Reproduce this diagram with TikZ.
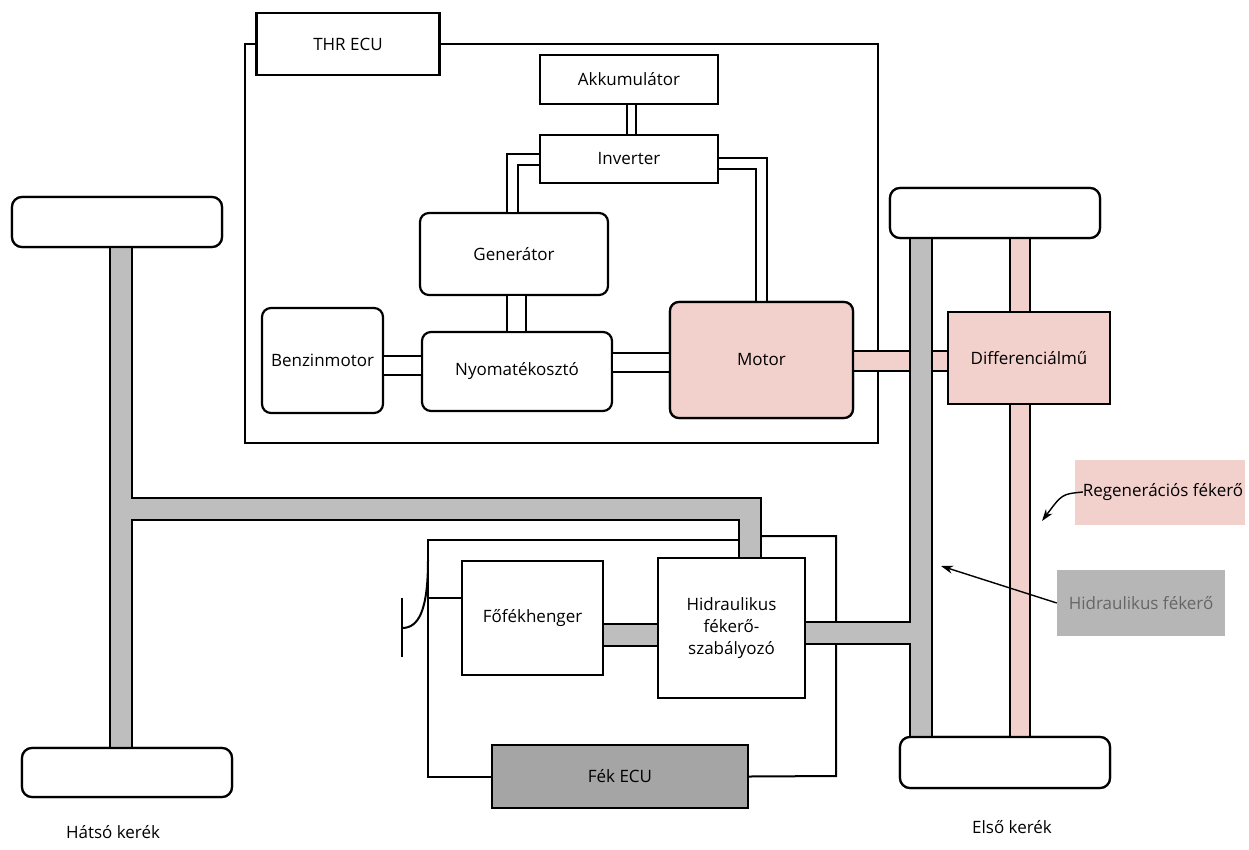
\documentclass[tikz,border=0pt]{standalone}
\usepackage{fontspec}
\setmainfont{Open Sans}
\usetikzlibrary{arrows.meta}
\definecolor{pinkf}{RGB}{242,208,204}
\definecolor{grayp}{RGB}{190,190,190}
\definecolor{grayd}{RGB}{165,165,165}
\definecolor{grayl}{RGB}{182,182,182}
\begin{document}
\begin{tikzpicture}[x=1pt,y=-1pt,
  every node/.style={font=\fontsize{17}{22}\selectfont},
  box/.style={draw,line width=2.2pt,fill=white,inner sep=0pt,align=center},
  rbox/.style={box,rounded corners=9pt},
  wheel/.style={box,rounded corners=10pt,minimum width=210pt,minimum height=50pt},
  dline/.style={draw,line width=2pt,double=white},
  thin/.style={draw,line width=2pt},
  gpipeo/.style={draw=black,line width=24pt},
  gpipei/.style={draw=grayp,line width=19.5pt},
  ppipeo/.style={draw=black,line width=22pt},
  ppipei/.style={draw=pinkf,line width=18pt},
  lab/.style={inner sep=0pt,align=center},
  arr/.style={draw,line width=1.4pt,-{Stealth[length=12pt,width=8pt]}}]
\useasboundingbox (0,0) rectangle (1249,849);

% nodes
\node[box,minimum width=183pt,minimum height=62pt] (thr) at (348,44) {THR ECU};
\node[box,minimum width=178pt,minimum height=49pt] (akku) at (629,79.5) {Akkumulátor};
\node[box,minimum width=178pt,minimum height=48pt] (inv) at (629,159) {Inverter};
\node[rbox,minimum width=188pt,minimum height=82pt] (gen) at (514,254) {Generátor};
\node[rbox,minimum width=121pt,minimum height=105pt] (benz) at (322.5,360.5) {Benzinmotor};
\node[rbox,minimum width=190pt,minimum height=79pt] (nyom) at (517,371.5) {Nyomatékosztó};
\node[rbox,fill=pinkf,minimum width=183pt,minimum height=116pt] (motor) at (761.5,360) {Motor};
\node[box,fill=pinkf,minimum width=162pt,minimum height=92pt] (diff) at (1029,358) {Differenciálmű};
\node[wheel] (fwt) at (995,213) {};
\node[wheel,minimum height=51pt] (fwb) at (1005,762.5) {};
\node[wheel] (rwt) at (117,222) {};
\node[wheel,minimum height=49pt] (rwb) at (127,772.5) {};
\node[box,minimum width=147pt,minimum height=140pt] (hidr) at (731.5,628) {Hidraulikus\\fékerő-\\szabályozó};
\node[box,minimum width=141pt,minimum height=114pt] (fof) at (532.5,618) {Főfékhenger};
\node[box,fill=grayd,minimum width=256pt,minimum height=63pt] (fek) at (620,776.5) {Fék ECU};
\node[lab,fill=pinkf,minimum width=170pt,minimum height=65pt] (reg) at (1160,492) {\hspace*{6pt}Regenerációs fékerő};
\node[lab,fill=grayl,text=black!60,minimum width=168pt,minimum height=66pt] (hid) at (1141,603) {Hidraulikus fékerő};
\node[lab] (hk) at (113,832) {Hátsó kerék};
\node[lab] (ek) at (1012,827) {Első kerék};

\coordinate (tjr) at (121,509);
\coordinate (tjh) at (750,509);
\coordinate (tjf) at (921,633);

% thin control lines (behind pipes and boxes)
\draw[thin] (thr.east) -| (878,443) -| (245,44) -- (thr.west);
\draw[thin] (fek.west) -| (428,540) -- (748,540);
\draw[thin] (428,598) -- (fof.west |- 0,598);
\draw[thin] (752,536) -| (836,776) -- (fek.east);
\draw[thin] (428,560) .. controls (428,612) and (418,628) .. (402,628);
\draw[thin] (402,598) -- (402,657);

% double mechanical / electrical links
\path[dline,double distance=7pt] ([xshift=2pt]akku.south) -- ([xshift=2pt]inv.north);
\path[dline,double distance=9pt] (inv.west) -| ([xshift=-2pt]gen.north);
\path[dline,double distance=9pt] ([yshift=-4pt]inv.east) -| (motor.north);
\path[dline,double distance=17pt] ([xshift=2pt]gen.south) -- ([xshift=2pt]gen.south |- nyom.north);
\path[dline,double distance=17pt] (benz.east |- 0,365) -- (nyom.west |- 0,365);
\path[dline,double distance=17pt] (nyom.east |- 0,362) -- (motor.west |- 0,362);

% pink pipes
\path[ppipeo] (motor.east |- 0,361) -- (diff.west |- 0,361);
\path[ppipeo] (fwt.south -| 1020,0) -- (diff.north -| 1020,0);
\path[ppipeo] (diff.south -| 1020,0) -- (fwb.north -| 1020,0);
\path[ppipei] (motor.east |- 0,361) -- (diff.west |- 0,361);
\path[ppipei] (fwt.south -| 1020,0) -- (diff.north -| 1020,0);
\path[ppipei] (diff.south -| 1020,0) -- (fwb.north -| 1020,0);

% gray pipes
\path[gpipeo] (rwt.south -| tjr) -- (rwb.north -| tjr);
\path[gpipeo] (tjr) -- (tjh) -- (hidr.north -| tjh);
\path[gpipeo] (fwt.south -| tjf) -- (fwb.north -| tjf);
\path[gpipeo] (hidr.east |- tjf) -- (tjf);
\path[gpipeo] (fof.east |- 0,635) -- (hidr.west |- 0,635);
\path[gpipei] (rwt.south -| tjr) -- (rwb.north -| tjr);
\path[gpipei] (tjr) -- (tjh) -- (hidr.north -| tjh);
\path[gpipei] (fwt.south -| tjf) -- (fwb.north -| tjf);
\path[gpipei] (hidr.east |- tjf) -- (tjf);
\path[gpipei] (fof.east |- 0,635) -- (hidr.west |- 0,635);

% boxes redrawn on top of the pipe ends
\node[box,minimum width=147pt,minimum height=140pt] (hidrb) at (hidr) {Hidraulikus\\fékerő-\\szabályozó};
\node[box,minimum width=141pt,minimum height=114pt] (fofb) at (fof) {Főfékhenger};
\node[box,fill=pinkf,minimum width=162pt,minimum height=92pt] (diffb) at (diff) {Differenciálmű};
\node[rbox,fill=pinkf,minimum width=183pt,minimum height=116pt] (motorb) at (motor) {Motor};
\node[wheel] (fwtb) at (fwt) {};
\node[wheel,minimum height=51pt] (fwbb) at (fwb) {};
\node[wheel] (rwtb) at (rwt) {};
\node[wheel,minimum height=49pt] (rwbb) at (rwb) {};

% label arrows
\coordinate (regt) at (1042,521);
\coordinate (hidt) at (941,566);
\draw[arr] ([xshift=8pt]reg.west) .. controls (1062,494) .. (regt);
\draw[arr] (hid.west) -- (hidt);
\end{tikzpicture}
\end{document}
